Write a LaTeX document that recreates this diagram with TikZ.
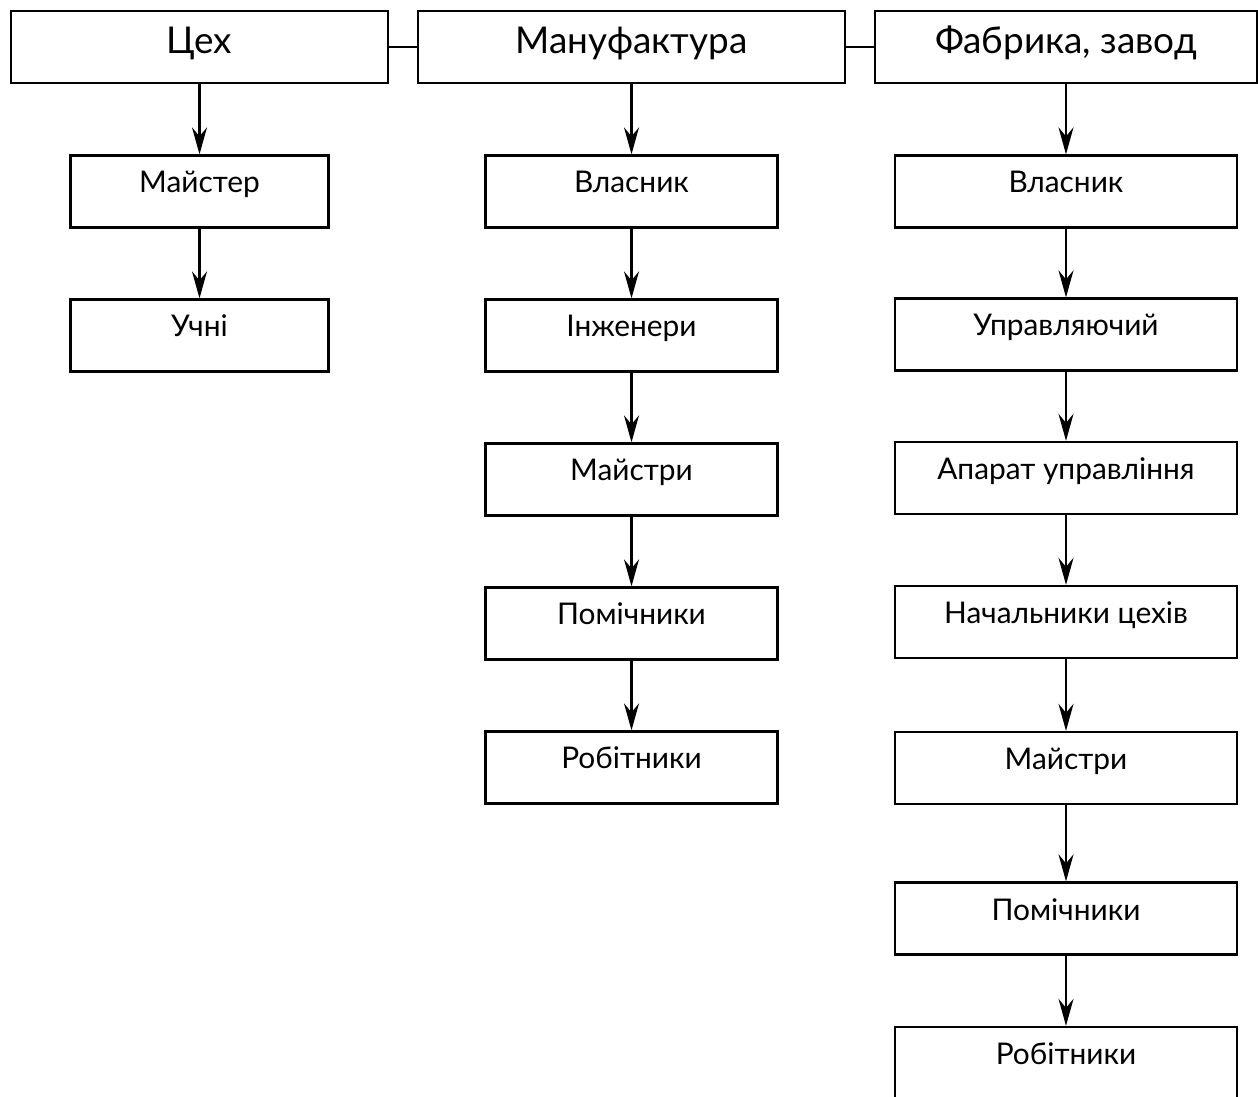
\documentclass[tikz,border=0pt]{standalone}
\usepackage{fontspec}
\setmainfont{Lato}
\usetikzlibrary{arrows.meta, positioning}

\tikzset{
  headbox/.style={draw, line width=1.3pt, minimum height=1.44cm, inner sep=0pt,
    font=\fontsize{21}{25}\selectfont, text height=0.55cm, text depth=0.27cm},
  itembox/.style={draw, line width=1.3pt, minimum height=1.44cm, inner sep=0pt,
    font=\fontsize{17}{20}\selectfont, text height=0.45cm, text depth=0.39cm},
  link/.style={line width=1.3pt}
}

\begin{document}
\begin{tikzpicture}[x=0.02cm, y=-0.02cm,
    >={Stealth[length=5.4mm, width=3mm, inset=1.8mm]}]
  \clip (0,0) rectangle (1258,1097);
  % top row
  \node[headbox, minimum width=7.54cm] (tsekh) at (199.5,47) {Цех};
  \node[headbox, minimum width=8.54cm] (manuf) at (631.5,47) {Мануфактура};
  \node[headbox, minimum width=7.64cm] (fabr)  at (1066,47)  {Фабрика, завод};
  \draw[link] (tsekh) -- (manuf);
  \draw[link] (manuf) -- (fabr);
  % guild column
  \node[itembox, minimum width=5.16cm] (l1) at (199.5,191.5) {Майстер};
  \node[itembox, minimum width=5.16cm] (l2) at (199.5,335.5) {Учні};
  % manufactory column
  \foreach \i/\yy/\txt in {1/191.5/Власник, 2/335.5/Інженери, 3/479.5/Майстри,
                           4/623.5/Помічники, 5/767.5/Робітники}{
    \node[itembox, minimum width=5.84cm] (m\i) at (631.5,\yy) {\txt};
  }
  % factory column
  \foreach \i/\yy/\txt in {1/191.5/Власник, 2/334.5/Управляючий,
                           3/478/Апарат управління, 4/622/Начальники цехів,
                           5/768/Майстри, 6/918.5/Помічники, 7/1063/Робітники}{
    \node[itembox, minimum width=6.84cm] (r\i) at (1066,\yy) {\txt};
  }
  % arrows
  \foreach \a/\b in {tsekh/l1, l1/l2, manuf/m1, m1/m2, m2/m3, m3/m4, m4/m5,
                     fabr/r1, r1/r2, r2/r3, r3/r4, r4/r5, r5/r6, r6/r7}{
    \draw[link, ->] (\a) -- (\b);
  }
\end{tikzpicture}
\end{document}
